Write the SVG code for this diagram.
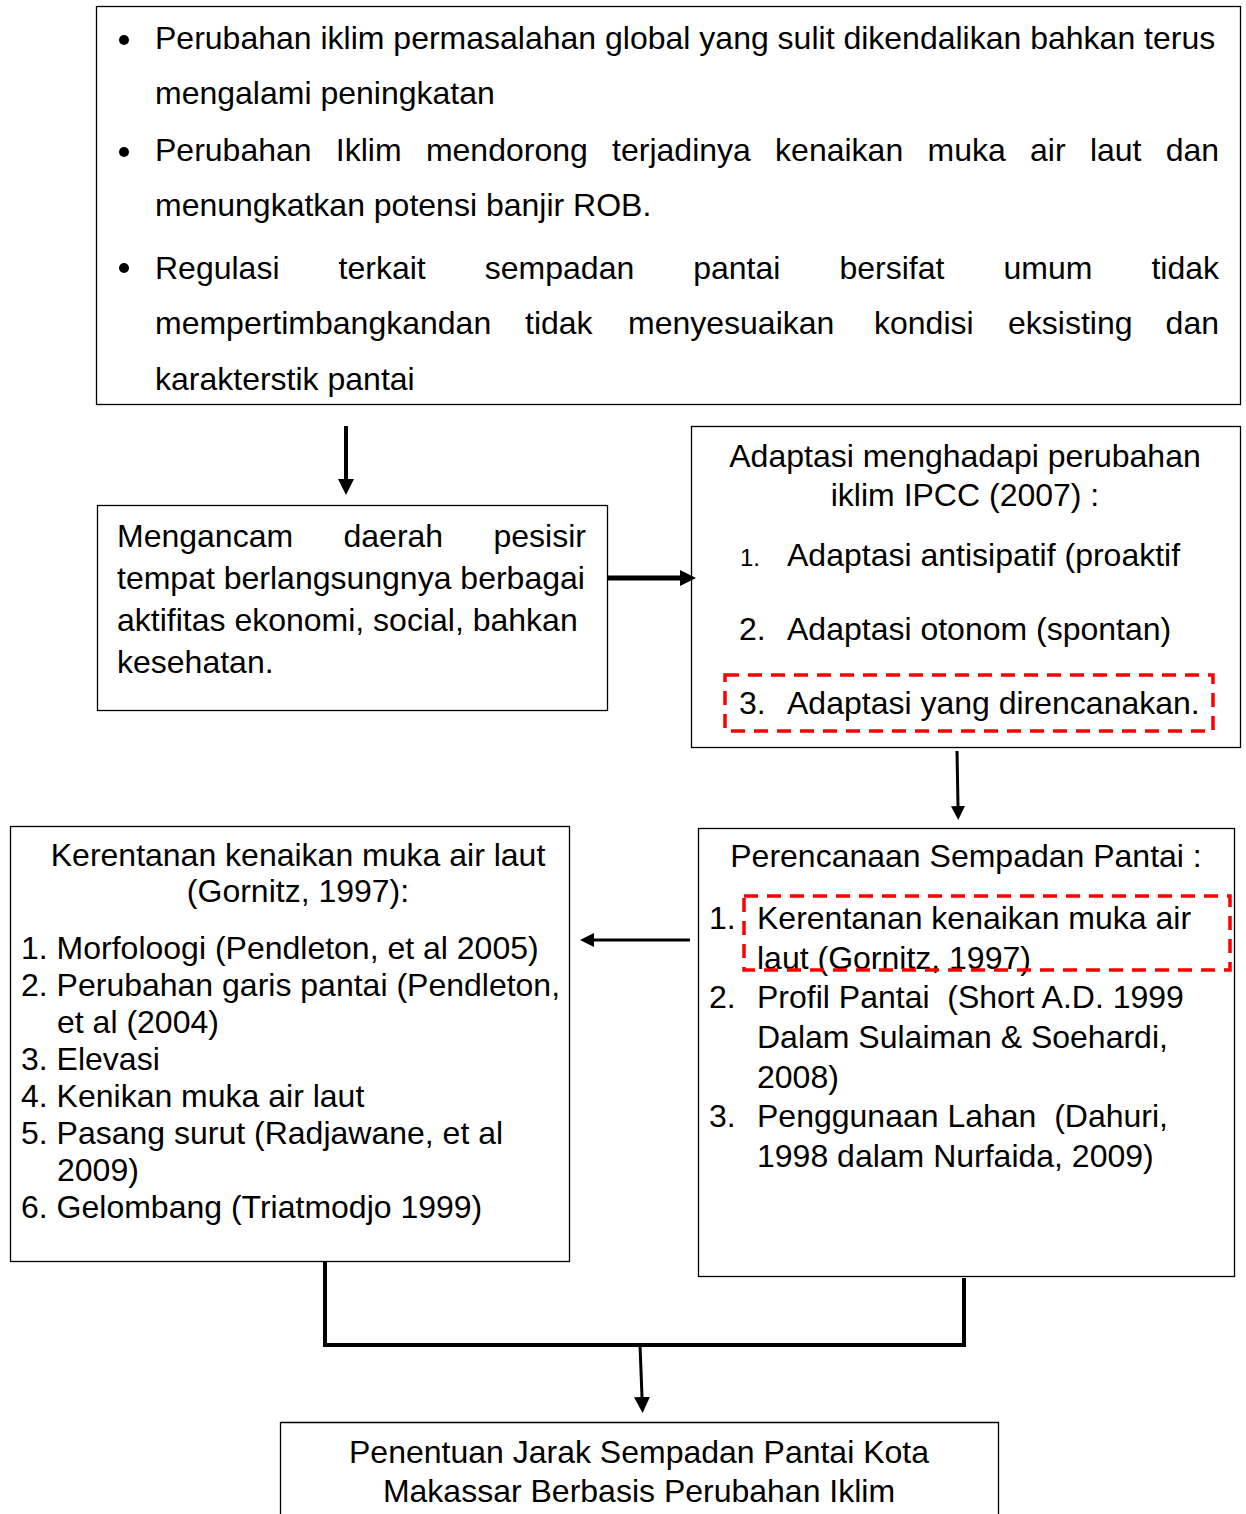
<svg xmlns="http://www.w3.org/2000/svg" width="1246" height="1514" viewBox="0 0 1246 1514">
<defs>
<style>
text{font-family:"Liberation Sans",Arial,sans-serif;font-size:32px;fill:#000}
.box{fill:#fff;stroke:#000;stroke-width:1.3}
.dash{fill:none;stroke:#f00;stroke-width:3.5;stroke-dasharray:14 9}
.c{text-anchor:middle}
.conn{fill:none;stroke:#000}
</style>
<marker id="ah" viewBox="0 0 10 10" refX="0" refY="5" markerWidth="16" markerHeight="16" orient="auto" markerUnits="userSpaceOnUse">
<path d="M0,0L10,5L0,10z" fill="#000"/>
</marker>
<marker id="ahs" viewBox="0 0 10 10" refX="0" refY="5" markerWidth="14" markerHeight="14" orient="auto" markerUnits="userSpaceOnUse">
<path d="M0,0L10,5L0,10z" fill="#000"/>
</marker>
</defs>
<rect width="1246" height="1514" fill="#fff"/>
<g id="node-top">
<rect class="box" x="96.5" y="6.5" width="1144" height="398"/>
<circle cx="124" cy="40" r="5"/>
<circle cx="124" cy="152" r="5"/>
<circle cx="124" cy="268" r="5"/>
<text x="155" y="49">Perubahan iklim permasalahan global yang sulit dikendalikan bahkan terus</text>
<text x="155" y="104">mengalami peningkatan</text>
<text y="161"><tspan x="155">Perubahan</tspan><tspan x="335.8">Iklim</tspan><tspan x="425.9">mendorong</tspan><tspan x="612.1">terjadinya</tspan><tspan x="775.1">kenaikan</tspan><tspan x="927.5">muka</tspan><tspan x="1030">air</tspan><tspan x="1089.9">laut</tspan><tspan x="1165.7">dan</tspan></text>
<text x="155" y="216">menungkatkan potensi banjir ROB.</text>
<text y="279"><tspan x="155">Regulasi</tspan><tspan x="338.6">terkait</tspan><tspan x="484.8">sempadan</tspan><tspan x="693.2">pantai</tspan><tspan x="839.5">bersifat</tspan><tspan x="1003.5">umum</tspan><tspan x="1151.4">tidak</tspan></text>
<text y="334"><tspan x="155">mempertimbangkandan</tspan><tspan x="525">tidak</tspan><tspan x="628">menyesuaikan</tspan><tspan x="874">kondisi</tspan><tspan x="1008">eksisting</tspan><tspan x="1165.6">dan</tspan></text>
<text x="155" y="390">karakterstik pantai</text>
</g>
<g id="node-ancam">
<rect class="box" x="97.5" y="505.5" width="510" height="205"/>
<text y="547"><tspan x="117">Mengancam</tspan><tspan x="343.5">daerah</tspan><tspan x="493.5">pesisir</tspan></text>
<text x="117" y="589">tempat berlangsungnya berbagai</text>
<text x="117" y="631">aktifitas ekonomi, social, bahkan</text>
<text x="117" y="673">kesehatan.</text>
</g>
<g id="node-adaptasi">
<rect class="box" x="691.5" y="426.5" width="549" height="321"/>
<text class="c" x="965" y="467">Adaptasi menghadapi perubahan</text>
<text class="c" x="965" y="506">iklim IPCC (2007) :</text>
<text x="740" y="566" style="font-size:24px">1.</text>
<text x="787" y="566">Adaptasi antisipatif (proaktif</text>
<text x="739" y="640">2.</text>
<text x="787" y="640">Adaptasi otonom (spontan)</text>
<text x="739" y="714">3.</text>
<text x="787" y="714">Adaptasi yang direncanakan.</text>
<rect class="dash" x="725" y="675" width="488" height="56"/>
</g>
<g id="node-kerentanan">
<rect class="box" x="10.5" y="826.5" width="559" height="435"/>
<text class="c" x="298" y="866">Kerentanan kenaikan muka air laut</text>
<text class="c" x="298" y="902">(Gornitz, 1997):</text>
<text x="21" y="959">1. Morfoloogi (Pendleton, et al 2005)</text>
<text x="21" y="996">2. Perubahan garis pantai (Pendleton,</text>
<text x="57" y="1033">et al (2004)</text>
<text x="21" y="1070">3. Elevasi</text>
<text x="21" y="1107">4. Kenikan muka air laut</text>
<text x="21" y="1144">5. Pasang surut (Radjawane, et al</text>
<text x="57" y="1181">2009)</text>
<text x="21" y="1218">6. Gelombang (Triatmodjo 1999)</text>
</g>
<g id="node-perencanaan">
<rect class="box" x="698.5" y="828.5" width="536" height="448"/>
<text class="c" x="966" y="867">Perencanaan Sempadan Pantai :</text>
<text x="709" y="929">1.</text>
<text x="757" y="929">Kerentanan kenaikan muka air</text>
<text x="757" y="969">laut (Gornitz, 1997)</text>
<text x="709" y="1008">2.</text>
<text x="757" y="1008">Profil Pantai&#160; (Short A.D. 1999</text>
<text x="757" y="1048">Dalam Sulaiman &amp; Soehardi,</text>
<text x="757" y="1088">2008)</text>
<text x="709" y="1127">3.</text>
<text x="757" y="1127">Penggunaan Lahan&#160; (Dahuri,</text>
<text x="757" y="1167">1998 dalam Nurfaida, 2009)</text>
<rect class="dash" x="744" y="896" width="486" height="74"/>
</g>
<g id="node-penentuan">
<path class="box" d="M280.5,1514V1422.5H998.5V1514"/>
<text class="c" x="639" y="1463">Penentuan Jarak Sempadan Pantai Kota</text>
<text class="c" x="639" y="1502">Makassar Berbasis Perubahan Iklim</text>
</g>
<g id="connectors">
<line class="conn" x1="346" y1="426" x2="346" y2="479" stroke-width="4" marker-end="url(#ah)"/>
<line class="conn" x1="608" y1="578" x2="680" y2="578" stroke-width="5" marker-end="url(#ah)"/>
<line class="conn" x1="957" y1="751" x2="958" y2="806" stroke-width="3" marker-end="url(#ahs)"/>
<line class="conn" x1="690" y1="940" x2="594" y2="940" stroke-width="3" marker-end="url(#ahs)"/>
<path class="conn" d="M325,1262V1345H964V1278" stroke-width="4"/>
<line class="conn" x1="640" y1="1345" x2="642" y2="1397" stroke-width="3" marker-end="url(#ah)"/>
</g>
</svg>
